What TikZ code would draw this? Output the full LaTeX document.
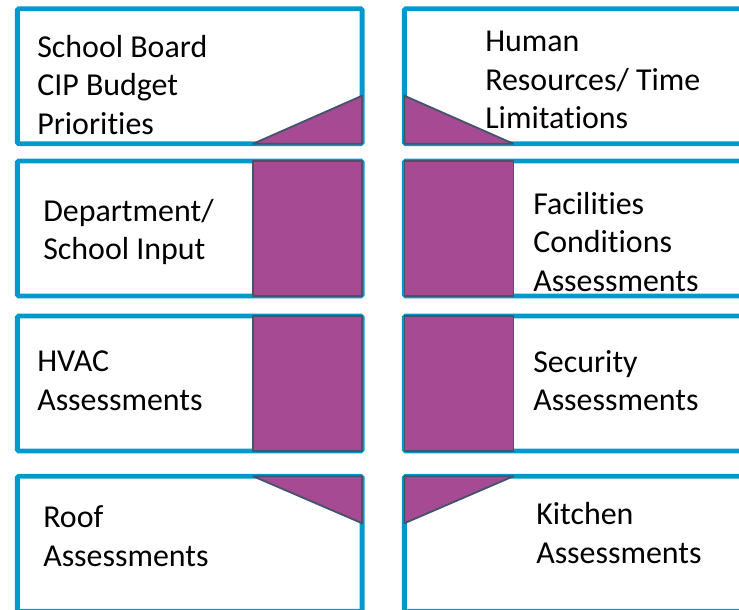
\documentclass[tikz,border=0pt]{standalone}
\usepackage{fontspec}
\setmainfont[Ligatures=NoCommon]{Carlito}
\definecolor{boxblue}{RGB}{0,153,204}
\definecolor{flow}{RGB}{166,74,148}
\definecolor{flowline}{RGB}{68,84,106}
\tikzset{
  box/.style={draw=boxblue, line width=3.5pt, minimum width=8.6125cm,
    minimum height=3.375cm, inner sep=0pt, outer sep=0pt, rounded corners=1pt},
  lbl/.style={anchor=west, align=left, inner sep=0pt,
    font=\fontsize{22.7}{27.4}\selectfont},
  flowpart/.style={fill=flow, draw=flowline, line width=1.3pt, line join=round}
}
\begin{document}
\begin{tikzpicture}[x=0.025cm, y=-0.025cm]
  \useasboundingbox (0,0) rectangle (739,610);
  \clip (0,0) rectangle (739,610);
  % boxes
  \node[box] (board) at (189.75,76.25) {};
  \node[box] (hr) at (576.75,76.25) {};
  \node[box] (dept) at (189.75,228.5) {};
  \node[box] (fca) at (576.75,228.5) {};
  \node[box] (hvac) at (189.75,383.5) {};
  \node[box] (sec) at (576.75,383.5) {};
  \node[box] (roof) at (189.75,543.75) {};
  \node[box] (kitchen) at (576.75,543.75) {};
  % purple bands
  \draw[flowpart] (board.south east) -- +(0,-48) -- +(-109,0) -- cycle;
  \draw[flowpart] (hr.south west) -- +(0,-48) -- +(109,0) -- cycle;
  \draw[flowpart] (dept.north east) rectangle +(-109,135);
  \draw[flowpart] (fca.north west) rectangle +(109,135);
  \draw[flowpart] (hvac.north east) rectangle +(-109,135);
  \draw[flowpart] (sec.north west) rectangle +(109,135);
  \draw[flowpart] (roof.north east) -- +(0,47) -- +(-109,0) -- cycle;
  \draw[flowpart] (kitchen.north west) -- +(0,47) -- +(109,0) -- cycle;
  % texts
  \node[lbl] (board-t) at (37,85) {School Board\\CIP Budget\\Priorities};
  \node[lbl] (hr-t) at (485,80) {Human\\Resources/ Time\\Limitations};
  \node[lbl] (dept-t) at (43,232) {Department/\\School Input};
  \node[lbl] (fca-t) at (533,242) {Facilities\\Conditions\\Assessments};
  \node[lbl] (hvac-t) at (37,380.5) {HVAC\\Assessments};
  \node[lbl] (sec-t) at (533,380.5) {Security\\Assessments};
  \node[lbl] (roof-t) at (43,536) {Roof\\Assessments};
  \node[lbl] (kitchen-t) at (536,533) {Kitchen\\Assessments};
\end{tikzpicture}
\end{document}
